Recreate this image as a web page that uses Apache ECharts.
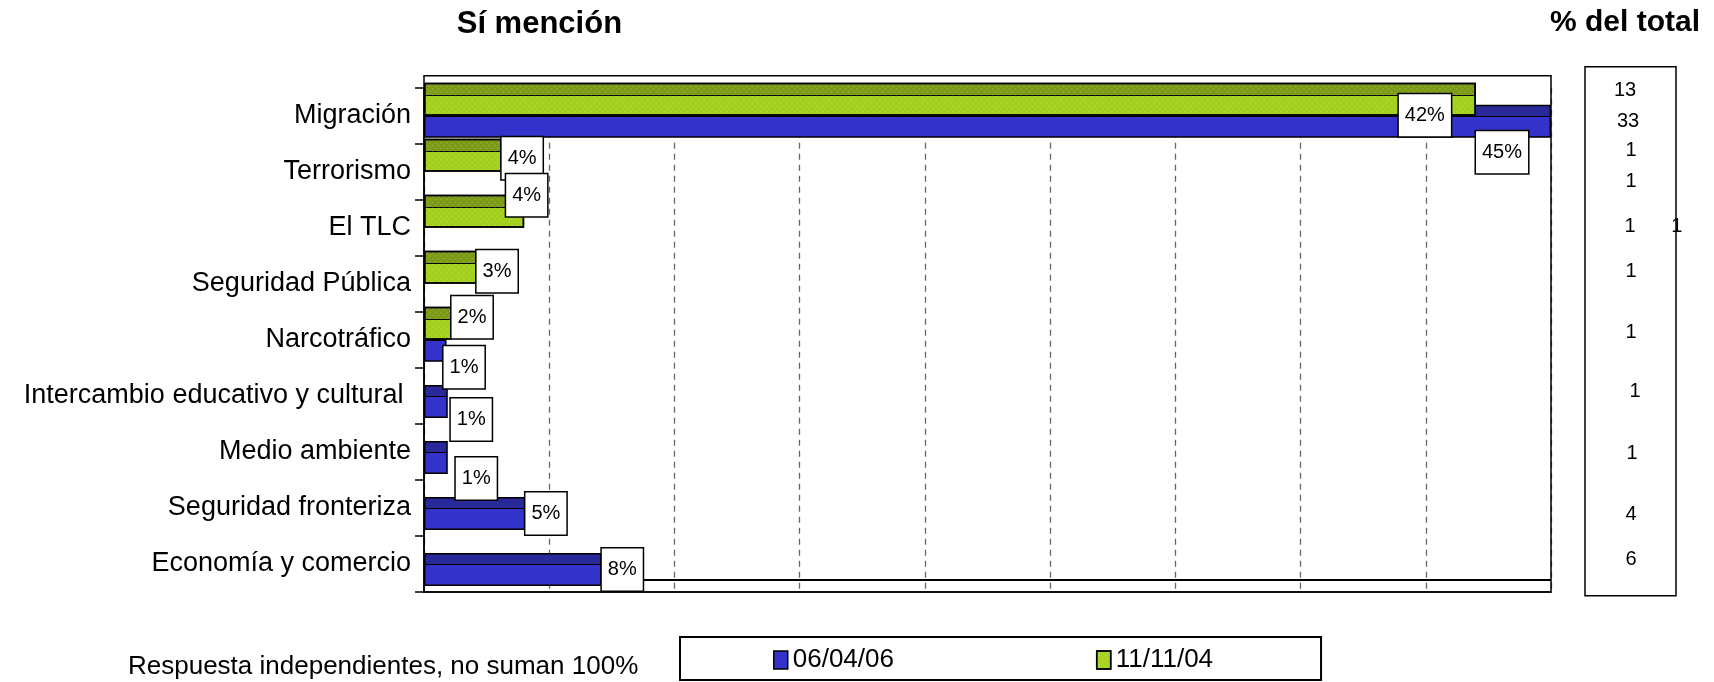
<!DOCTYPE html>
<html>
<head>
<meta charset="utf-8">
<script src="https://cdn.jsdelivr.net/npm/echarts@6/dist/echarts.min.js"></script>
<style>
  html, body { margin: 0; padding: 0; background: #fff; }
  #chart { width: 1714px; height: 682px; }
</style>
</head>
<body>
<div id="chart"></div>
<script>
// categories, top to bottom as in the picture
const categories = ['Migración', 'Terrorismo', 'El TLC', 'Seguridad Pública', 'Narcotráfico',
  'Intercambio educativo y cultural ', 'Medio ambiente', 'Seguridad fronteriza', 'Economía y comercio'];

// bar lengths (axis 0-45)
const values060406 = [45, null, null, null, 0.9, 0.95, 0.95, 4.05, 7.1];
const values111104 = [42, 3.1, 4.0, 2.1, 1.1, null, null, null, null];

// data labels as printed on the chart
const labels060406 = ['45%', '', '', '', '1%', '1%', '1%', '5%', '8%'];
const labels111104 = ['42%', '4%', '4%', '3%', '2%', '', '', '', ''];

// "% del total" column
const totalPct = ['13', '33', '1', '1', '1', '1', '1', '1', '1', '4', '6'];

const seriesNames = ['06/04/06', '11/11/04'];
const xMin = 0, xMax = 45, xStep = 5;

const FONT = '"Liberation Sans", Arial, sans-serif';

// label nudges (Excel placed them by hand)
const offs06 = [[-75, 31], null, null, null, [-3, 22], [3, 18], [8, 21], [0, 0], [0, 0]];
const offs04 = [[-77, 16], [0, 3], [-18, -16], [0, 4], [0, -6], null, null, null, null];

function faceGradient(top, front, split) {
  return new echarts.graphic.LinearGradient(0, 0, 0, 1, [
    { offset: 0, color: top }, { offset: split, color: top },
    { offset: split, color: '#000' }, { offset: split + 0.045, color: '#000' },
    { offset: split + 0.045, color: front }, { offset: 1, color: front }
  ]);
}

function buildData(vals, labels, offs) {
  return vals.map((v, i) => ({
    value: v,
    label: { show: !!labels[i], formatter: labels[i] || '', offset: offs[i] || [0, 0] }
  }));
}

const greenDecal = {
  symbol: 'rect', symbolSize: 0.6,
  dashArrayX: [2, 2], dashArrayY: [2, 2],
  rotation: Math.PI / 4, color: 'rgba(255,255,255,0.4)'
};

const barLabel = {
  show: true, position: 'right', distance: 0,
  fontSize: 20, fontFamily: FONT, color: '#000',
  backgroundColor: '#fff', borderColor: '#000', borderWidth: 1.5,
  padding: [11, 6, 11, 6]
};

const gridBox = { left: 424, width: 1127, height: 504.3 };

const hiddenX = (i) => ({ type: 'value', gridIndex: i, min: xMin, max: xMax, interval: xStep, show: false });
const hiddenY = (i) => ({ type: 'category', gridIndex: i, data: categories, inverse: true, show: false });

// positions of the "% del total" numbers
const pctX = [1625, 1628, 1631, 1631, 1630, 1631, 1631, 1635, 1632, 1631, 1631];
const pctY = [90.7, 121.7, 150.7, 181.7, 226.7, 271.7, 332, 391.7, 453.3, 514, 559.3];

function txt(text, x, y, size, opts) {
  opts = opts || {};
  return {
    type: 'text', z: 50,
    style: {
      text: text, x: x, y: y,
      fontSize: size, fontFamily: FONT, fontWeight: opts.bold ? 'bold' : 'normal',
      fill: '#000',
      textAlign: opts.align || 'left', align: opts.align || 'left',
      textVerticalAlign: 'middle', verticalAlign: 'middle'
    }
  };
}

const graphics = [
  txt('Sí mención', 456.7, 24.5, 31, { bold: true }),
  txt('% del total', 1700, 23, 30, { bold: true, align: 'right' }),
  txt('Respuesta independientes, no suman 100%', 128, 667, 26),
  { type: 'rect', z: 40, shape: { x: 424, y: 75.7, width: 1127, height: 516.3 },
    style: { fill: null, stroke: '#000', lineWidth: 1.5 } },
  { type: 'line', z: 1, shape: { x1: 424, y1: 580, x2: 1551, y2: 580 },
    style: { stroke: '#000', lineWidth: 2 } },
  { type: 'rect', z: 40, shape: { x: 1585, y: 66.7, width: 91, height: 529 },
    style: { fill: null, stroke: '#000', lineWidth: 1.5 } },
  txt('1', 1676.7, 226.7, 20, { align: 'center' })
];
totalPct.forEach((t, i) => graphics.push(txt(t, pctX[i], pctY[i], 20, { align: 'center' })));

const option = {
  animation: false,
  backgroundColor: '#fff',
  grid: [
    Object.assign({ top: 87.7 }, gridBox),          // axes
    Object.assign({ top: 87.7 + 5.5 }, gridBox),    // 06/04/06 bars
    Object.assign({ top: 87.7 - 16.5 }, gridBox)    // 11/11/04 bars
  ],
  xAxis: [
    {
      type: 'value', gridIndex: 0, min: xMin, max: xMax, interval: xStep,
      axisLine: { show: true, lineStyle: { color: '#000', width: 1.5 } },
      axisTick: { show: false }, axisLabel: { show: false },
      splitLine: { show: true, lineStyle: { color: '#666', type: [6, 5], width: 1.3 } }
    },
    hiddenX(1), hiddenX(2)
  ],
  yAxis: [
    {
      type: 'category', gridIndex: 0, data: categories, inverse: true,
      axisLine: { show: true, lineStyle: { color: '#000', width: 1.5 } },
      axisTick: { show: true, length: 9, lineStyle: { color: '#000', width: 1.5 } },
      axisLabel: { fontSize: 27, fontFamily: FONT, color: '#000', margin: 13 }
    },
    hiddenY(1), hiddenY(2)
  ],
  legend: {
    left: 680, top: 637,
    padding: [10, 108, 7, 93],
    itemGap: 202, itemWidth: 14, itemHeight: 18,
    borderColor: '#000', borderWidth: 2,
    textStyle: { fontSize: 26, fontFamily: FONT, color: '#000' },
    icon: 'rect',
    data: [
      { name: seriesNames[0], itemStyle: { color: '#3333cc', borderColor: '#000', borderWidth: 1.5 } },
      { name: seriesNames[1], itemStyle: { color: '#a6d31c', borderColor: '#000', borderWidth: 1.5, decal: greenDecal } }
    ]
  },
  series: [
    {
      name: seriesNames[0], type: 'bar', xAxisIndex: 1, yAxisIndex: 1,
      barWidth: 33, z: 2,
      itemStyle: { color: faceGradient('#29299a', '#3333cc', 0.33), borderColor: '#000', borderWidth: 1.5 },
      label: barLabel,
      data: buildData(values060406, labels060406, offs06)
    },
    {
      name: seriesNames[1], type: 'bar', xAxisIndex: 2, yAxisIndex: 2,
      barWidth: 33, z: 3,
      itemStyle: { color: faceGradient('#7a9a14', '#a2d01a', 0.36), borderColor: '#000', borderWidth: 1.5, decal: greenDecal },
      label: barLabel,
      data: buildData(values111104, labels111104, offs04)
    }
  ],
  graphic: graphics
};

const chart = echarts.init(document.getElementById('chart'), null, { renderer: 'canvas' });
chart.setOption(option);
</script>
</body>
</html>
